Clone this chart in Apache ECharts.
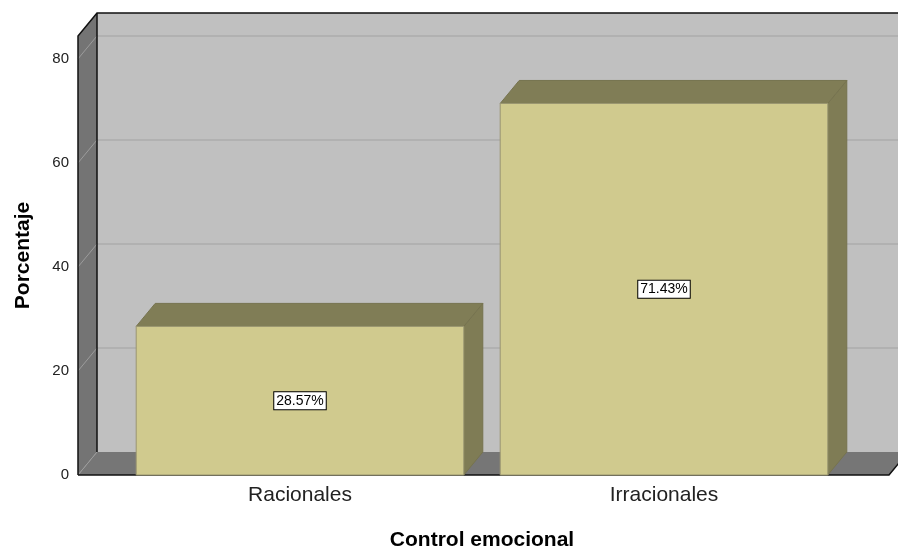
<!DOCTYPE html>
<html><head><meta charset="utf-8">
<script src="https://cdn.jsdelivr.net/npm/echarts/dist/echarts.min.js"></script>
<style>html,body{margin:0;padding:0;background:#fff}#c{width:898px;height:556px}</style>
</head><body><div id="c"></div>
<script>
const categories = ['Racionales', 'Irracionales'];
const percentages = [28.57, 71.43];
const pctLabels = ['28.57%', '71.43%'];
const yTicks = [0, 20, 40, 60, 80];
const xTitle = 'Control emocional';
const yTitle = 'Porcentaje';

const DX = 19, DY = -23;
const LEFT_EXT = 40, RIGHT_EXT = 43;
const FONT = '"Liberation Sans", Arial, sans-serif';

function wallsRender(params, api) {
  const cs = params.coordSys;
  const x0 = cs.x - LEFT_EXT, x1 = cs.x + cs.width + RIGHT_EXT;
  const yt = cs.y, yb = cs.y + cs.height;
  const bx0 = x0 + DX, bx1 = x1 + DX;
  const ch = [];
  ch.push({type:'polygon', shape:{points:[[bx0,yt+DY],[bx1,yt+DY],[bx1,yb+DY],[bx0,yb+DY]]}, style:{fill:'#c0c0c0'}});
  yTicks.forEach(v => {
    if (v === 0) return;
    const y = api.coord([0, v])[1];
    ch.push({type:'line', shape:{x1:bx0,y1:y+DY,x2:bx1,y2:y+DY}, style:{stroke:'#adadad', lineWidth:1.5}});
  });
  ch.push({type:'polygon', shape:{points:[[x0,yt],[bx0,yt+DY],[bx0,yb+DY],[x0,yb]]}, style:{fill:'#747474'}});
  ch.push({type:'polygon', shape:{points:[[x0,yb],[bx0,yb+DY],[bx1,yb+DY],[x1,yb]]}, style:{fill:'#767676'}});
  yTicks.forEach(v => {
    const y = api.coord([0, v])[1];
    ch.push({type:'line', shape:{x1:x0,y1:y,x2:bx0,y2:y+DY}, style:{stroke:'#9c9c9c', lineWidth:1}});
  });
  ch.push({type:'polyline', shape:{points:[[x0,yb],[x0,yt],[bx0,yt+DY],[bx1,yt+DY]]}, style:{stroke:'#111', lineWidth:1.5, fill:null}});
  ch.push({type:'line', shape:{x1:bx0,y1:yt+DY,x2:bx0,y2:yb+DY}, style:{stroke:'#111', lineWidth:1.5}});
  ch.push({type:'polyline', shape:{points:[[x0,yb],[x1,yb],[bx1,yb+DY]]}, style:{stroke:'#111', lineWidth:1.5, fill:null}});
  return {type:'group', children: ch};
}

function barRender(params, api) {
  const i = api.value(0), v = api.value(1);
  const top = api.coord([i, v]), base = api.coord([i, 0]);
  const w = api.size([1, 0])[0] * 0.9;
  const xl = top[0] - w / 2, xr = top[0] + w / 2, yt = top[1], yb = base[1];
  const edge = '#76734f';
  return {type:'group', children: [
    {type:'polygon', shape:{points:[[xr,yt],[xr+DX,yt+DY],[xr+DX,yb+DY],[xr,yb]]}, style:{fill:'#7f7c55', stroke:edge, lineWidth:1}},
    {type:'polygon', shape:{points:[[xl,yt],[xl+DX,yt+DY],[xr+DX,yt+DY],[xr,yt]]}, style:{fill:'#807d56', stroke:edge, lineWidth:1}},
    {type:'rect', shape:{x:xl, y:yt, width:w, height:yb-yt}, style:{fill:'#d0ca8e', stroke:'#9a9670', lineWidth:1}},
    {type:'text', x: top[0], y: (yt + yb) / 2, style:{text: pctLabels[params.dataIndex], fill:'#000', font:'14px ' + FONT, align:'center', verticalAlign:'middle', backgroundColor:'#fff', borderColor:'#000', borderWidth:1, padding:[2,2,1,2]}}
  ]};
}

const chart = echarts.init(document.getElementById('c'), null, {renderer:'canvas'});
chart.setOption({
  animation: false,
  backgroundColor: '#fff',
  textStyle: {fontFamily: FONT},
  grid: {left: 118, right: 52, top: 36, bottom: 75, containLabel: false},
  xAxis: {
    type: 'category', data: categories,
    axisLine: {show: false}, axisTick: {show: false},
    axisLabel: {fontSize: 21, color: '#222', margin: 10},
    name: xTitle, nameLocation: 'middle', nameGap: 55,
    nameTextStyle: {fontSize: 21, fontWeight: 'bold', color: '#000'}
  },
  yAxis: {
    type: 'value', min: 0, max: 84.4, interval: 20, offset: 40,
    axisLine: {show: false}, axisTick: {show: false}, splitLine: {show: false},
    axisLabel: {fontSize: 15, color: '#222', margin: 9, formatter: v => (yTicks.indexOf(v) >= 0 ? String(v) : '')},
    name: yTitle, nameLocation: 'middle', nameRotate: 90, nameGap: 44,
    nameTextStyle: {fontSize: 21, fontWeight: 'bold', color: '#000'}
  },
  series: [
    {type:'custom', z: 1, silent: true, clip: false, renderItem: wallsRender, data: [[0, 0]]},
    {type:'custom', z: 2, silent: true, clip: false, renderItem: barRender,
     data: categories.map((c, i) => [i, percentages[i]])}
  ]
});
</script></body></html>
